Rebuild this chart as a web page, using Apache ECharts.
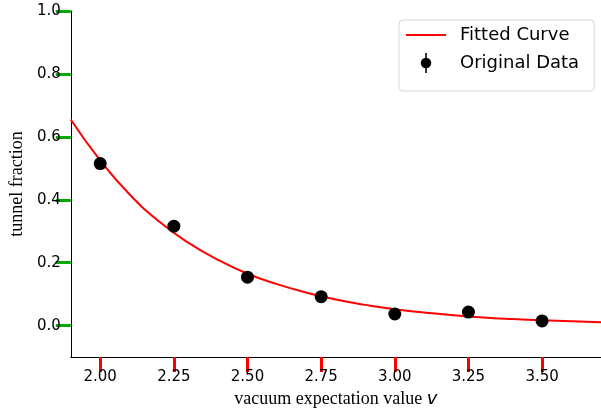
<!DOCTYPE html>
<html>
<head>
<meta charset="utf-8">
<script src="https://cdn.jsdelivr.net/npm/echarts@6/dist/echarts.min.js"></script>
<style>
  html, body { margin: 0; padding: 0; background: #fff; }
  #main { width: 601px; height: 413px; }
</style>
</head>
<body>
<div id="main"></div>
<script>
// measured points (vev, tunnel fraction)
var vevValues = [2.00, 2.25, 2.50, 2.75, 3.00, 3.25, 3.50];
var tunnelFraction = [0.515, 0.316, 0.154, 0.092, 0.037, 0.043, 0.015];

// fitted curve
var curveX = [1.9, 2.0, 2.1, 2.2, 2.3, 2.4, 2.5, 2.6, 2.7, 2.8, 2.9, 3.0, 3.1, 3.2, 3.3, 3.4, 3.5, 3.6, 3.7];
var curveY = [0.655, 0.525, 0.417, 0.331, 0.263, 0.209, 0.165, 0.132, 0.105, 0.083, 0.066, 0.052, 0.042, 0.033, 0.026, 0.021, 0.017, 0.014, 0.011];

var xTickValues = [2.00, 2.25, 2.50, 2.75, 3.00, 3.25, 3.50];
var yTickValues = [0.0, 0.2, 0.4, 0.6, 0.8, 1.0];

var chart = echarts.init(document.getElementById('main'));

var points = vevValues.map(function (v, i) { return [v, tunnelFraction[i]]; });
var curve = curveX.map(function (v, i) { return [v, curveY[i]]; });

chart.setOption({
    animation: false,
    grid: { left: 69, top: 11, right: -4, bottom: 55 },
    legend: {
        orient: 'vertical',
        left: 399,
        top: 20,
        padding: [5, 15, 18, 7],
        itemWidth: 40,
        itemHeight: 20,
        itemGap: 8,
        backgroundColor: '#fff',
        borderColor: '#d5d5d5',
        borderWidth: 1,
        borderRadius: 4,
        textStyle: {
            fontFamily: 'DejaVu Sans',
            fontSize: 18,
            lineHeight: 20,
            color: '#000',
            padding: [0, 0, 0, 9]
        },
        data: [
            { name: 'Fitted Curve', icon: 'path://M0,0h40v2h-40z', itemStyle: { color: '#ff0000' } },
            { name: 'Original Data', icon: 'path://M8.5,0h3v38h-3z M0,19a10,10 0 1,1 20,0a10,10 0 1,1 -20,0z' }
        ]
    },
    xAxis: {
        type: 'value',
        min: 1.9,
        max: 3.7,
        name: 'vacuum expectation value {v|v}',
        nameLocation: 'middle',
        nameGap: 32,
        nameTextStyle: {
            fontFamily: 'Liberation Serif',
            fontSize: 18,
            color: '#000',
            rich: {
                v: { fontFamily: 'DejaVu Sans', fontStyle: 'italic', fontSize: 18, color: '#000' }
            }
        },
        axisLine: { show: true, onZero: false, lineStyle: { color: '#000', width: 1 } },
        splitLine: { show: false },
        axisTick: {
            show: true,
            length: 15,
            customValues: xTickValues,
            lineStyle: { color: '#f00', width: 3 }
        },
        axisLabel: {
            customValues: xTickValues,
            margin: 13,
            fontFamily: 'DejaVu Sans',
            fontSize: 15,
            color: '#000',
            formatter: function (v) { return v.toFixed(2); }
        }
    },
    yAxis: {
        type: 'value',
        min: -0.1,
        max: 1.0,
        name: 'tunnel fraction',
        nameLocation: 'middle',
        nameRotate: 90,
        nameGap: 42,
        nameTextStyle: { fontFamily: 'Liberation Serif', fontSize: 18, color: '#000' },
        axisLine: { show: true, onZero: false, lineStyle: { color: '#000', width: 1 } },
        splitLine: { show: false },
        axisTick: {
            show: true,
            length: 15,
            customValues: yTickValues,
            lineStyle: { color: '#0a0', width: 3 }
        },
        axisLabel: {
            customValues: yTickValues,
            margin: 10,
            fontFamily: 'DejaVu Sans',
            fontSize: 15,
            color: '#000',
            formatter: function (v) { return v.toFixed(1); }
        }
    },
    series: [
        {
            name: 'Fitted Curve',
            type: 'line',
            data: curve,
            smooth: true,
            symbol: 'none',
            lineStyle: { color: '#ff0000', width: 2 },
            z: 2
        },
        {
            name: 'Original Data',
            type: 'scatter',
            data: points,
            symbolSize: 13,
            itemStyle: { color: '#000', opacity: 1 },
            z: 3
        }
    ]
});
</script>
</body>
</html>
